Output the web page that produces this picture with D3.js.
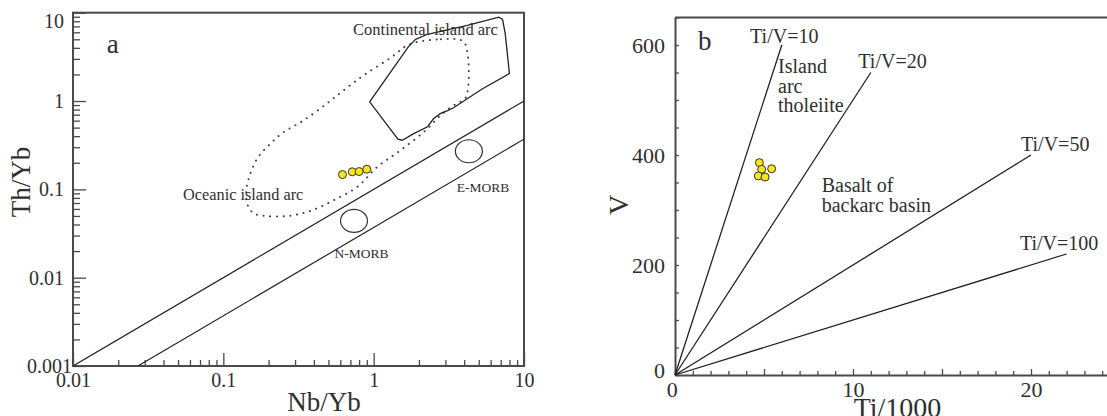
<!DOCTYPE html>
<html>
<head>
<meta charset="utf-8">
<script src="https://cdn.jsdelivr.net/npm/d3@7"></script>
<style>
body { margin: 0; background: #fff; overflow: hidden; }
svg { display: block; }
text { font-family: "Liberation Serif", "Times New Roman", serif; }
</style>
</head>
<body>
<svg id="chart" width="1107" height="416"></svg>
<script>
// ---- panel a: Th/Yb vs Nb/Yb ----
const sampleNbYb = [0.62, 0.72, 0.80, 0.90];
const sampleThYb = [0.147, 0.158, 0.159, 0.169];
const morbNames = ["N-MORB", "E-MORB"];
const morbNbYb = [0.74, 4.3];
const morbThYb = [0.044, 0.27];
const arrayRatios = [0.1, 0.037];          // Th/Nb of the two array boundaries
const logTicks = [0.001, 0.01, 0.1, 1, 10];
const continentalArc = [[0.94,0.98],[1.70,4.1],[1.9,5.0],[2.28,5.7],[4.2,7.2],[6.8,8.9],[7.2,8.4],
  [7.5,5.8],[8.0,2.05],[5.2,1.35],[3.4,0.84],[3.1,0.78],[2.77,0.72],[2.5,0.63],[2.28,0.51],
  [1.86,0.43],[1.55,0.36],[1.45,0.37]];
const oceanicArc = [[1.74,4.4],[2.8,5.0],[3.8,4.9],[4.1,4.3],[4.1,1.1],[3.5,0.92],[2.84,0.71],
  [2.2,0.46],[1.5,0.275],[1.06,0.18],[0.78,0.107],[0.54,0.075],[0.38,0.057],[0.27,0.05],
  [0.19,0.05],[0.158,0.054],[0.144,0.069],[0.142,0.097],[0.151,0.15],[0.17,0.23],[0.206,0.33],
  [0.25,0.44],[0.34,0.6],[0.49,0.94],[0.63,1.32],[0.86,1.96],[1.3,3.1]];
const labelsA = [
  {t: "Continental island arc", x: 0.73, y: 5.6, size: 16.5},
  {t: "Oceanic island arc", x: 0.054, y: 0.076, size: 16.3},
  {t: "E-MORB", x: 3.57, y: 0.094, size: 13.5},
  {t: "N-MORB", x: 0.548, y: 0.0166, size: 13.5},
  {t: "a", x: 0.0168, y: 3.5, size: 27}
];

// ---- panel b: V vs Ti/1000 ----
const sampleTi = [4.74, 4.87, 5.43, 4.68, 5.06];
const sampleV = [386, 374, 375, 362, 360];
const tiVRatios = [10, 20, 50, 100];
const tiVEnds = [6, 11, 20, 22];           // Ti/1000 where each ratio line stops
const vTicks = [0, 200, 400, 600];
const tiTicks = [0, 10, 20];
const labelsB = [
  {t: "b", x: 1.29, y: 591, size: 27},
  {t: "Ti/V=10", x: 4.22, y: 603, size: 20},
  {t: "Ti/V=20", x: 10.3, y: 558, size: 20},
  {t: "Island", x: 5.79, y: 549, size: 20},
  {t: "arc", x: 5.79, y: 513, size: 20},
  {t: "tholeiite", x: 5.79, y: 478, size: 20},
  {t: "Ti/V=50", x: 19.44, y: 407, size: 20},
  {t: "Ti/V=100", x: 19.38, y: 227, size: 20},
  {t: "Basalt of", x: 8.24, y: 333, size: 20},
  {t: "backarc basin", x: 8.24, y: 296, size: 20}
];

const serif = "Liberation Serif";
const ink = "#2f2f2f";
const axisInk = "#4a4a4a";
const yellow = "#f7e41c";
const svg = d3.select("#chart");

// ===== panel a =====
const xa = d3.scaleLog().domain([0.01, 10]).range([73, 524]);
const ya = d3.scaleLog().domain([0.001, 10]).range([366, 12.7]);
const ga = svg.append("g");

const minorLog = (lo, hi) => {
  const out = [];
  for (let e = Math.log10(lo); e < Math.log10(hi); e++)
    for (let m = 2; m <= 9; m++) out.push(m * Math.pow(10, e));
  return out;
};

// frame
ga.append("rect")
  .attr("x", xa.range()[0]).attr("y", ya.range()[1])
  .attr("width", xa.range()[1] - xa.range()[0])
  .attr("height", ya.range()[0] - ya.range()[1])
  .attr("fill", "none").attr("stroke", axisInk).attr("stroke-width", 2);

// x axis
const xAxisA = ga.append("g").attr("transform", `translate(0,${ya.range()[0]})`);
xAxisA.append("g").call(d3.axisBottom(xa).tickValues(minorLog(0.01, 10)).tickSizeInner(-6).tickSizeOuter(0).tickFormat(""));
xAxisA.append("g").call(d3.axisBottom(xa).tickValues([0.01, 0.1, 1, 10]).tickSizeInner(-13).tickSizeOuter(0)
  .tickPadding(7).tickFormat(d3.format("~g")));
// y axis
const yAxisA = ga.append("g").attr("transform", `translate(${xa.range()[0]},0)`);
yAxisA.append("g").call(d3.axisLeft(ya).tickValues(minorLog(0.001, 10)).tickSizeInner(-7).tickSizeOuter(0).tickFormat(""));
yAxisA.append("g").call(d3.axisLeft(ya).tickValues(logTicks).tickSizeInner(-13).tickSizeOuter(0)
  .tickPadding(9).tickFormat(d => d < 0.01 ? "0.001" : d3.format("~g")(d)));
yAxisA.selectAll("text").filter(d => d === 10).attr("dy", "0.75em");
yAxisA.selectAll("text").filter(d => d === 0.001).attr("dx", "0.4em");

[xAxisA, yAxisA].forEach(g => {
  g.selectAll(".domain").remove();
  g.selectAll("g").attr("font-family", serif);
  g.selectAll("line").attr("stroke", axisInk).attr("stroke-width", 1.3);
  g.selectAll("text").attr("font-family", serif).attr("font-size", 20).attr("fill", ink);
});

// MORB array boundaries
svg.append("clipPath").attr("id", "clipA").append("rect")
  .attr("x", xa.range()[0]).attr("y", ya.range()[1])
  .attr("width", xa.range()[1] - xa.range()[0]).attr("height", ya.range()[0] - ya.range()[1]);
ga.append("g").attr("clip-path", "url(#clipA)")
  .selectAll("line").data(arrayRatios).join("line")
  .attr("x1", r => xa(Math.max(0.01, 0.001 / r))).attr("y1", r => ya(Math.max(0.001, 0.01 * r)))
  .attr("x2", xa(10)).attr("y2", r => ya(10 * r))
  .attr("stroke", "#222").attr("stroke-width", 1.2);

ga.append("path").datum(oceanicArc)
  .attr("d", d3.line().x(d => xa(d[0])).y(d => ya(d[1])).curve(d3.curveCatmullRomClosed.alpha(0.5)))
  .attr("fill", "none").attr("stroke", "#444").attr("stroke-width", 2)
  .attr("stroke-dasharray", "0.1 6.6").attr("stroke-linecap", "round");
ga.append("path").datum(continentalArc)
  .attr("d", d3.line().x(d => xa(d[0])).y(d => ya(d[1])).curve(d3.curveLinearClosed))
  .attr("fill", "none").attr("stroke", "#222").attr("stroke-width", 1.3);

ga.selectAll(".morb").data(morbNames).join("ellipse").attr("class", "morb")
  .attr("cx", (d, i) => xa(morbNbYb[i])).attr("cy", (d, i) => ya(morbThYb[i]))
  .attr("rx", 13.5).attr("ry", 11.5)
  .attr("fill", "none").attr("stroke", "#333").attr("stroke-width", 1.2);

ga.selectAll(".lab").data(labelsA).join("text").attr("class", "lab")
  .attr("x", d => xa(d.x)).attr("y", d => ya(d.y)).attr("font-family", serif)
  .attr("font-size", d => d.size).attr("fill", ink).text(d => d.t);

ga.selectAll(".pt").data(sampleNbYb).join("circle").attr("class", "pt")
  .attr("cx", d => xa(d)).attr("cy", (d, i) => ya(sampleThYb[i])).attr("r", 4)
  .attr("fill", yellow).attr("stroke", "#333").attr("stroke-width", 1);

ga.append("text").attr("x", 324).attr("y", 411).attr("text-anchor", "middle").attr("font-family", serif)
  .attr("font-size", 27).attr("fill", ink).text("Nb/Yb");
ga.append("text").attr("transform", "translate(30,182) rotate(-90)").attr("text-anchor", "middle")
  .attr("font-family", serif).attr("font-size", 27).attr("fill", ink).text("Th/Yb");

// ===== panel b =====
const xb = d3.scaleLinear().domain([0, 25]).range([675, 1120]);
const yb = d3.scaleLinear().domain([0, 650]).range([375, 17.5]);
const gb = svg.append("g");

gb.append("line").attr("x1", xb(0)).attr("x2", xb(25)).attr("y1", yb(650)).attr("y2", yb(650))
  .attr("stroke", axisInk).attr("stroke-width", 2);

const xAxisB = gb.append("g").attr("transform", `translate(0,${yb(0)})`);
xAxisB.call(d3.axisBottom(xb).tickValues(d3.range(0, 26)).tickSizeInner(-4).tickSizeOuter(0)
  .tickPadding(6).tickFormat(d => tiTicks.includes(d) ? d : ""));
xAxisB.selectAll(".tick line").filter(d => d % 5 === 0).attr("y2", -6);
const yAxisB = gb.append("g").attr("transform", `translate(${xb(0)},0)`);
yAxisB.call(d3.axisLeft(yb).tickValues(d3.range(0, 651, 50)).tickSizeInner(-4).tickSizeOuter(0)
  .tickPadding(10).tickFormat(d => vTicks.includes(d) ? d : ""));
yAxisB.selectAll("text").filter(d => d === 0).attr("dy", "0.1em");
xAxisB.selectAll("text").filter(d => d === 0).attr("dx", "-0.15em");

[xAxisB, yAxisB].forEach(g => {
  g.attr("font-family", serif);
  g.select(".domain").attr("stroke", axisInk).attr("stroke-width", 2);
  g.selectAll("line").attr("stroke", axisInk).attr("stroke-width", 1.3);
  g.selectAll("text").attr("font-family", serif).attr("font-size", 22).attr("fill", ink);
});

gb.selectAll(".ratio").data(tiVRatios).join("line").attr("class", "ratio")
  .attr("x1", xb(0)).attr("y1", yb(0))
  .attr("x2", (r, i) => xb(tiVEnds[i])).attr("y2", (r, i) => yb(tiVEnds[i] * 1000 / r))
  .attr("stroke", "#222").attr("stroke-width", 1.3);

gb.selectAll(".lab").data(labelsB).join("text").attr("class", "lab")
  .attr("x", d => xb(d.x)).attr("y", d => yb(d.y)).attr("font-family", serif)
  .attr("font-size", d => d.size).attr("fill", ink).text(d => d.t);

gb.selectAll(".pt").data(sampleTi).join("circle").attr("class", "pt")
  .attr("cx", d => xb(d)).attr("cy", (d, i) => yb(sampleV[i])).attr("r", 4)
  .attr("fill", yellow).attr("stroke", "#333").attr("stroke-width", 1);

gb.append("text").attr("x", (xb.range()[0] + xb.range()[1]) / 2).attr("y", 417).attr("text-anchor", "middle")
  .attr("font-family", serif).attr("font-size", 28).attr("fill", ink).text("Ti/1000");
gb.append("text").attr("transform", "translate(628,205) rotate(-90)").attr("text-anchor", "middle")
  .attr("font-family", serif).attr("font-size", 28).attr("fill", ink).text("V");
</script>
</body>
</html>
